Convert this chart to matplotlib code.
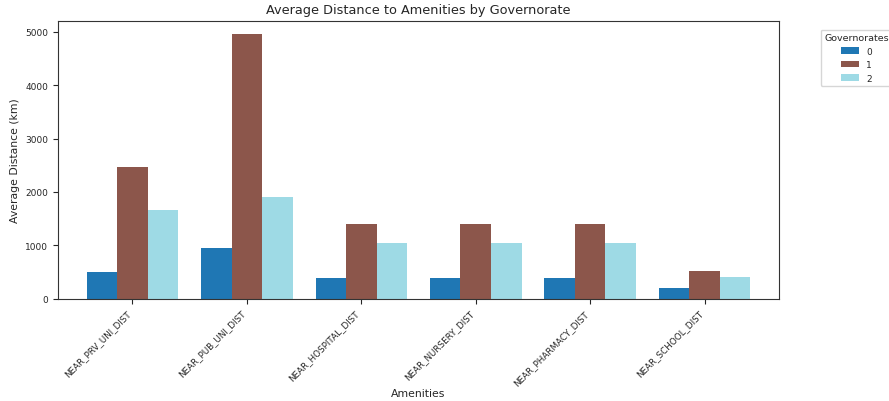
import numpy as np
import matplotlib
matplotlib.use("Agg")
import matplotlib.pyplot as plt

amenities = ["NEAR_PRV_UNI_DIST", "NEAR_PUB_UNI_DIST", "NEAR_HOSPITAL_DIST",
             "NEAR_NURSERY_DIST", "NEAR_PHARMACY_DIST", "NEAR_SCHOOL_DIST"]
governorates = ["0", "1", "2"]
gov0 = [495, 945, 388, 388, 388, 195]
gov1 = [2463, 4957, 1400, 1400, 1400, 519]
gov2 = [1657, 1901, 1050, 1050, 1050, 401]

colors = ["#1f77b4", "#8c564b", "#9edae5"]
text_color = "#262626"

plt.rcParams["text.color"] = text_color
plt.rcParams["axes.labelcolor"] = text_color
plt.rcParams["xtick.color"] = text_color
plt.rcParams["ytick.color"] = text_color
plt.rcParams["axes.edgecolor"] = "#333333"

fig = plt.figure(figsize=(8.89, 4.02), dpi=100)
ax = fig.add_axes([58 / 889, 1 - 299.5 / 402, 721 / 889, 277.5 / 402])

x = np.arange(len(amenities))
width = 0.8 / 3
for i, (vals, lab) in enumerate(zip([gov0, gov1, gov2], governorates)):
    ax.bar(x + (i - 1) * width, vals, width, color=colors[i], label=lab)

ax.set_xlim(-0.65, len(amenities) - 1 + 0.65)
ax.set_xticks(x)
ax.set_xticklabels(amenities, rotation=45, ha="right", fontsize=6.3)
ax.tick_params(axis="y", labelsize=6.5)
ax.set_yticks([0, 1000, 2000, 3000, 4000, 5000])
ax.set_title("Average Distance to Amenities by Governorate", fontsize=9.3)
ax.set_xlabel("Amenities", fontsize=7.8, labelpad=1)
ax.set_ylabel("Average Distance (km)", fontsize=7.8)

leg = ax.legend(title="Governorates", loc="upper left",
                bbox_to_anchor=(816 / 889, 1 - 26 / 402),
                bbox_transform=fig.transFigure,
                fontsize=6.5, title_fontsize=6.8)

fig.savefig("out.png", dpi=100)
